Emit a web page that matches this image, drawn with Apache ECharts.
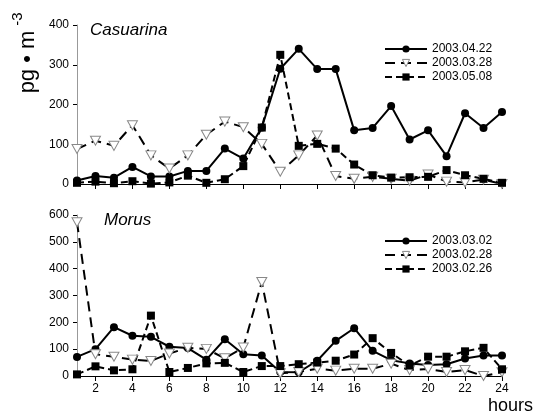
<!DOCTYPE html>
<html><head><meta charset="utf-8">
<script src="https://cdn.jsdelivr.net/npm/echarts@6/dist/echarts.min.js"></script>
<style>html,body{margin:0;padding:0;background:#fff}#c{width:535px;height:416px}</style>
</head><body><div id="c"></div>
<script>
const hours = ['1','2','3','4','5','6','7','8','9','10','11','12','13','14','15','16','17','18','19','20','21','22','23','24'];
const casNames = ['2003.04.22','2003.03.28','2003.05.08'];
const cas0422 = [9,20,16,43,19,19,33,33,89,64,142,290,340,289,289,135,141,196,112,135,70,178,141,181];
const cas0328 = [88,109,96,148,72,39,72,124,157,143,101,31,72,122,20,13,18,13,8,24,6,4,11,0];
const cas0508 = [3,6,2,7,1,4,21,3,12,45,142,325,96,101,89,49,22,16,17,18,35,22,13,3];
const morNames = ['2003.03.02','2003.02.28','2003.02.26'];
const mor0302 = [71,100,182,150,146,109,104,61,137,81,76,15,14,57,131,178,94,59,47,41,44,65,76,76];
const mor0228 = [573,81,72,61,56,84,105,101,66,106,350,10,15,27,20,27,27,46,22,26,15,22,0,14];
const mor0226 = [6,36,21,25,225,15,30,47,49,15,37,37,44,50,57,80,141,86,39,72,72,92,105,25];

const chart = echarts.init(document.getElementById('c'));
const font = 'Liberation Sans, Arial, sans-serif';
const triStyle = {color:'#fff', borderColor:'#888', borderWidth:1};
function xAx(gi, showLabel){
  return {type:'category', gridIndex:gi, data:hours, boundaryGap:false,
    axisLine:{lineStyle:{color:'#000',width:1}},
    axisTick:{show:true, length:5, interval:(i)=>i%2===1, lineStyle:{color:'#000'}},
    axisLabel:{show:showLabel, interval:(i)=>i%2===1, color:'#000', fontFamily:font, fontSize:12, margin:7},
    splitLine:{show:false}};
}
function yAx(gi, max){
  return {type:'value', gridIndex:gi, min:0, max:max, interval:100,
    axisLine:{show:true, lineStyle:{color:'#999',width:1}},
    axisTick:{show:true, length:4, lineStyle:{color:'#000'}},
    axisLabel:{color:'#000', fontFamily:font, fontSize:12, margin:8},
    splitLine:{show:false}};
}
function ser(name, data, gi, kind){
  const base = {name:name, type:'line', xAxisIndex:gi, yAxisIndex:gi, data:data, animation:false,
    lineStyle:{color:'#000', width:2}, itemStyle:{color:'#000'}};
  if(kind===0){ base.symbol='circle'; base.symbolSize=8; }
  else if(kind===1){ base.symbol='path://M0,0 L10,0 L5,9 Z'; base.symbolSize=[10,9];
    base.itemStyle=triStyle; base.lineStyle.type=[10,6]; }
  else { base.symbol='rect'; base.symbolSize=8; base.lineStyle.type=[7,4]; }
  return base;
}
function legendData(names){
  return [{name:names[0]}, {name:names[1], itemStyle:triStyle}, {name:names[2]}];
}
const legendCommon = {orient:'vertical', left:379, itemWidth:42, itemHeight:9, itemGap:2,
  textStyle:{fontSize:12, color:'#000', fontFamily:font}};
chart.setOption({
  animation:false,
  textStyle:{fontFamily:font},
  grid:[{left:77, right:33, top:25, height:159},{left:77, right:33, top:215, height:161}],
  xAxis:[xAx(0,false), xAx(1,true)],
  yAxis:[yAx(0,400), yAx(1,600)],
  legend:[
    Object.assign({data:legendData(casNames), top:38}, legendCommon),
    Object.assign({data:legendData(morNames), top:230}, legendCommon)
  ],
  graphic:[
    {type:'text', left:90, top:22, style:{text:'Casuarina', font:'italic 17px Liberation Sans, Arial, sans-serif', fill:'#000'}},
    {type:'text', left:104, top:212, style:{text:'Morus', font:'italic 17px Liberation Sans, Arial, sans-serif', fill:'#000'}},
    {type:'text', right:2, top:397, style:{text:'hours', font:'18px Liberation Sans, Arial, sans-serif', fill:'#000'}},
    {type:'text', x:28, y:62, rotation:Math.PI/2, style:{text:'pg • m', font:'22px Liberation Sans, Arial, sans-serif', fill:'#000', textAlign:'center', textVerticalAlign:'middle'}},
    {type:'text', x:18, y:19, rotation:Math.PI/2, style:{text:'-3', font:'15px Liberation Sans, Arial, sans-serif', fill:'#000', textAlign:'center', textVerticalAlign:'middle'}}
  ],
  series:[
    ser(casNames[0], cas0422, 0, 0),
    ser(casNames[1], cas0328, 0, 1),
    ser(casNames[2], cas0508, 0, 2),
    ser(morNames[0], mor0302, 1, 0),
    ser(morNames[1], mor0228, 1, 1),
    ser(morNames[2], mor0226, 1, 2)
  ]
});
</script></body></html>
